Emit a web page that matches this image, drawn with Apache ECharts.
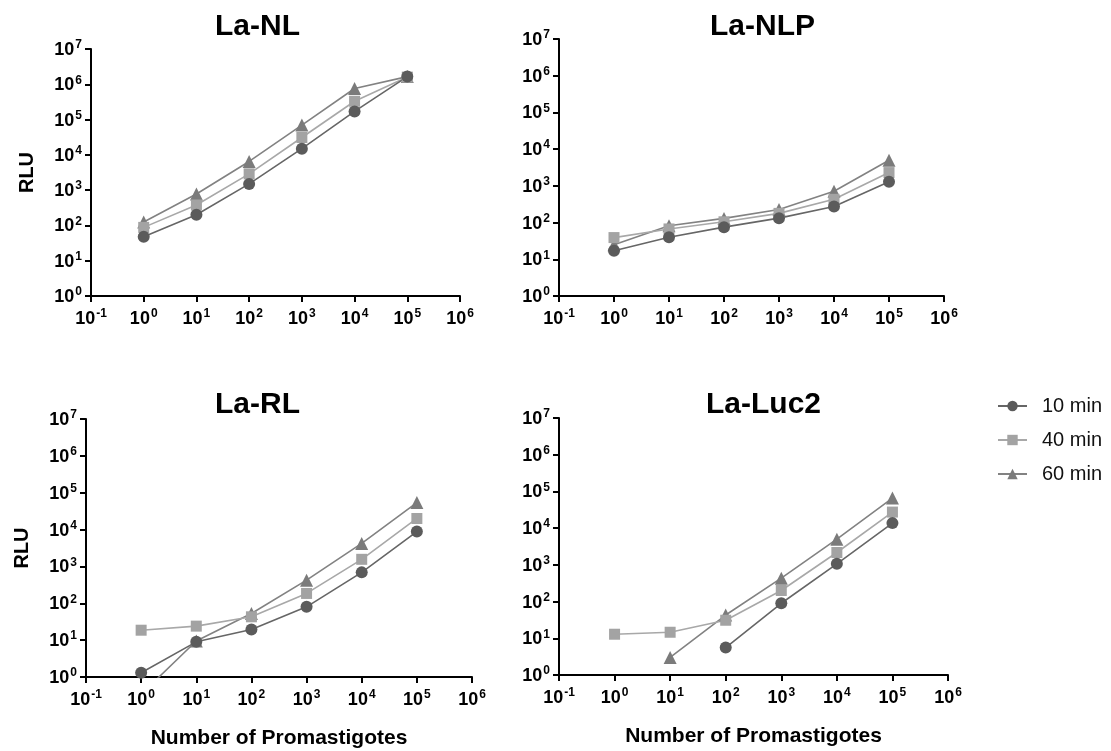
<!DOCTYPE html>
<html>
<head>
<meta charset="utf-8">
<script src="https://cdn.jsdelivr.net/npm/echarts@6/dist/echarts.min.js"></script>
<style>
  html, body { margin: 0; padding: 0; background: #fff; }
  #chart { width: 1111px; height: 751px; }
</style>
</head>
<body>
<div id="chart"></div>
<script>
// Promastigote counts (x) shared by every panel
const promastigotes = [1, 10, 100, 1000, 10000, 100000];

// Decade exponents used for the tick labels
const xTickExponents = [-1, 0, 1, 2, 3, 4, 5, 6];
const yTickExponents = [0, 1, 2, 3, 4, 5, 6, 7];

const panelTitles = ['La-NL', 'La-NLP', 'La-RL', 'La-Luc2'];
const seriesNames = ['10 min', '40 min', '60 min'];

// RLU per panel and read time (null = not detected)
const nl10 = [48, 200, 1500, 15000, 170000, 1650000];
const nl40 = [88, 380, 2900, 31000, 330000, 1600000];
const nl60 = [125, 780, 6500, 70000, 760000, 1650000];

const nlp10 = [17, 40, 75, 132, 275, 1300];
const nlp40 = [39, 67, 105, 178, 430, 2300];
const nlp60 = [25, 82, 130, 228, 710, 5000];

const rl10 = [1.3, 9, 19.5, 80, 690, 8800];
const rl40 = [18.6, 24, 43, 185, 1560, 20000];
const rl60 = [0.34, 9.5, 53, 425, 4200, 54000];

const luc10 = [null, null, 5.6, 90, 1070, 13700];
const luc40 = [12.9, 14.6, 31, 200, 2170, 27400];
const luc60 = [null, 3.0, 43, 435, 5000, 66000];

const panelData = [
  [nl10, nl40, nl60],
  [nlp10, nlp40, nlp60],
  [rl10, rl40, rl60],
  [luc10, luc40, luc60]
];

const FONT = 'Arial, "Liberation Sans", Helvetica, sans-serif';

const seriesStyle = [
  { symbol: 'circle',   symbolSize: 12, fill: '#5b5b5b', line: '#666666' },
  { symbol: 'rect',     symbolSize: 11, fill: '#a3a3a3', line: '#a8a8a8' },
  { symbol: 'triangle', symbolSize: 13, fill: '#7b7b7b', line: '#828282' }
];

const grids = [
  { left: 91,  top: 49,  width: 369, height: 247 },
  { left: 559, top: 39,  width: 385, height: 257 },
  { left: 86,  top: 419, width: 386, height: 258 },
  { left: 559, top: 418, width: 389, height: 257 }
];

// Title anchor points (centre x, top y)
const titleCenters = [257, 762, 257, 763];
const titleTops = [7, 7, 385, 385];

function expLabel(v, list) {
  const e = Math.round(Math.log10(v));
  if (list.indexOf(e) < 0) return '';
  return '{b|10}{s|' + e + '}';
}

const labelRich = {
  b: { fontFamily: FONT, fontSize: 18, fontWeight: 'bold', color: '#000', lineHeight: 20, verticalAlign: 'bottom' },
  s: { fontFamily: FONT, fontSize: 12, fontWeight: 'bold', color: '#000', lineHeight: 12, verticalAlign: 'top', padding: [0, 0, 0, 1] }
};

const axisLineStyle = { show: true, onZero: false, lineStyle: { color: '#000', width: 2 } };
const axisTickStyle = { show: true, length: 6, inside: false, lineStyle: { color: '#000', width: 2 } };

const xAxes = [], yAxes = [], titles = [], series = [];

grids.forEach(function (g, i) {
  const bottomRow = i >= 2;
  const leftCol = i % 2 === 0;
  xAxes.push({
    type: 'log', logBase: 10, gridIndex: i,
    min: Math.pow(10, xTickExponents[0]),
    max: Math.pow(10, xTickExponents[xTickExponents.length - 1]),
    axisLine: axisLineStyle, axisTick: axisTickStyle,
    splitLine: { show: false }, minorTick: { show: false },
    axisLabel: {
      margin: 12, showMinLabel: true, showMaxLabel: true, hideOverlap: false,
      formatter: function (v) { return expLabel(v, xTickExponents); },
      rich: labelRich
    },
    name: bottomRow ? 'Number of Promastigotes' : '',
    nameLocation: 'middle', nameGap: 51,
    nameTextStyle: { fontFamily: FONT, fontSize: 21, fontWeight: 'bold', color: '#000' }
  });
  yAxes.push({
    type: 'log', logBase: 10, gridIndex: i,
    min: Math.pow(10, yTickExponents[0]),
    max: Math.pow(10, yTickExponents[yTickExponents.length - 1]),
    axisLine: axisLineStyle, axisTick: axisTickStyle,
    splitLine: { show: false }, minorTick: { show: false },
    axisLabel: {
      margin: 9, showMinLabel: true, showMaxLabel: true, hideOverlap: false,
      formatter: function (v) { return expLabel(v, yTickExponents); },
      rich: labelRich
    },
    name: leftCol ? 'RLU' : '',
    nameLocation: 'middle', nameRotate: 90, nameGap: 54,
    nameTextStyle: { fontFamily: FONT, fontSize: 20, fontWeight: 'bold', color: '#000' }
  });
  titles.push({
    text: panelTitles[i],
    left: titleCenters[i] - 4.5,
    top: titleTops[i],
    textAlign: 'center',
    textStyle: { fontFamily: FONT, fontSize: 30, fontWeight: 'bold', color: '#000' }
  });
  // 60 min first so the 10 min markers sit on top
  [2, 1, 0].forEach(function (k) {
    const st = seriesStyle[k];
    series.push({
      type: 'line', name: seriesNames[k],
      xAxisIndex: i, yAxisIndex: i,
      data: promastigotes.map(function (x, j) {
        const v = panelData[i][k][j];
        return [x, v == null ? '-' : v];
      }),
      symbol: st.symbol, symbolSize: st.symbolSize,
      showSymbol: true, showAllSymbol: true,
      itemStyle: { color: st.fill, borderWidth: 0 },
      lineStyle: { color: st.line, width: 1.6 },
      connectNulls: false, clip: true, animation: false,
      emphasis: { disabled: true }
    });
  });
});

const chart = echarts.init(document.getElementById('chart'), null, { renderer: 'canvas' });
chart.setOption({
  backgroundColor: '#ffffff',
  animation: false,
  title: titles,
  grid: grids.map(function (g) { return Object.assign({ containLabel: false, outerBoundsMode: 'none' }, g); }),
  xAxis: xAxes,
  yAxis: yAxes,
  legend: {
    data: seriesNames,
    orient: 'vertical',
    left: 992, top: 391,
    itemWidth: 29, itemHeight: 13, itemGap: 14,
    textStyle: { fontFamily: FONT, fontSize: 20, color: '#111', padding: [0, 0, 0, 10] },
    selectedMode: false
  },
  series: series
});
</script>
</body>
</html>
